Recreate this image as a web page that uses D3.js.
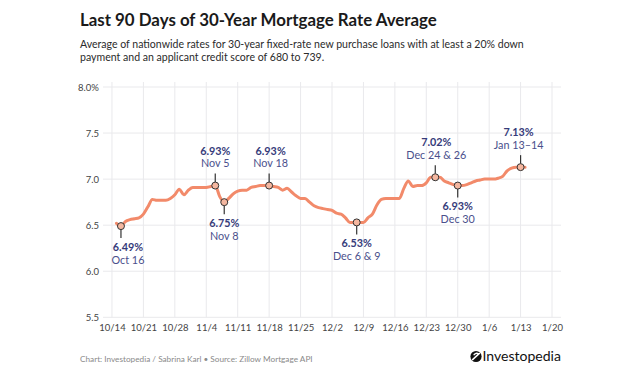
<!DOCTYPE html>
<html><head><meta charset="utf-8">
<script src="https://cdn.jsdelivr.net/npm/d3@7"></script>
<style>body{margin:0;background:#fff} svg{display:block}</style>
</head><body>
<svg id="c" width="640" height="374"></svg>
<script>
// ---- data ----
const dates = [
 "2024-10-15","2024-10-16","2024-10-17","2024-10-18","2024-10-19","2024-10-20","2024-10-21","2024-10-22","2024-10-23","2024-10-24",
 "2024-10-25","2024-10-26","2024-10-27","2024-10-28","2024-10-29","2024-10-30","2024-10-31","2024-11-01","2024-11-02","2024-11-03",
 "2024-11-04","2024-11-05","2024-11-06","2024-11-07","2024-11-08","2024-11-09","2024-11-10","2024-11-11","2024-11-12","2024-11-13",
 "2024-11-14","2024-11-15","2024-11-16","2024-11-17","2024-11-18","2024-11-19","2024-11-20","2024-11-21","2024-11-22","2024-11-23",
 "2024-11-24","2024-11-25","2024-11-26","2024-11-27","2024-11-28","2024-11-29","2024-11-30","2024-12-01","2024-12-02","2024-12-03",
 "2024-12-04","2024-12-05","2024-12-06","2024-12-07","2024-12-08","2024-12-09","2024-12-10","2024-12-11","2024-12-12","2024-12-13",
 "2024-12-14","2024-12-15","2024-12-16","2024-12-17","2024-12-18","2024-12-19","2024-12-20","2024-12-21","2024-12-22","2024-12-23",
 "2024-12-24","2024-12-25","2024-12-26","2024-12-27","2024-12-28","2024-12-29","2024-12-30","2024-12-31","2025-01-01","2025-01-02",
 "2025-01-03","2025-01-04","2025-01-05","2025-01-06","2025-01-07","2025-01-08","2025-01-09","2025-01-10","2025-01-11","2025-01-12",
 "2025-01-13","2025-01-14"];
const rates = [
 6.52,6.49,6.54,6.56,6.57,6.58,6.62,6.70,6.78,6.77,
 6.77,6.77,6.79,6.83,6.89,6.83,6.88,6.91,6.91,6.91,
 6.91,6.92,6.93,6.81,6.75,6.79,6.84,6.87,6.88,6.88,
 6.91,6.92,6.93,6.93,6.93,6.92,6.91,6.88,6.90,6.86,
 6.82,6.79,6.79,6.75,6.71,6.69,6.68,6.67,6.66,6.63,
 6.62,6.58,6.53,6.53,6.53,6.53,6.58,6.62,6.72,6.78,
 6.79,6.79,6.79,6.79,6.90,6.98,6.92,6.93,6.93,6.96,
 7.02,7.02,7.02,6.98,6.96,6.94,6.93,6.93,6.94,6.96,
 6.98,6.99,7.00,7.00,7.00,7.01,7.03,7.09,7.12,7.13,
 7.13,7.13];

const xTickDates  = ["2024-10-14","2024-10-21","2024-10-28","2024-11-04","2024-11-11","2024-11-18","2024-11-25","2024-12-02","2024-12-09","2024-12-16","2024-12-23","2024-12-30","2025-01-06","2025-01-13","2025-01-20"];
const xTickLabels = ["10/14","10/21","10/28","11/4","11/11","11/18","11/25","12/2","12/9","12/16","12/23","12/30","1/6","1/13","1/20"];
const yTicks      = [5.5, 6.0, 6.5, 7.0, 7.5, 8.0];
const yTickLabels = ["5.5","6.0","6.5","7.0","7.5","8.0%"];

const annDates       = ["2024-10-16","2024-11-06","2024-11-08","2024-11-18","2024-12-07T12:00","2024-12-25","2024-12-30","2025-01-13"];
const annRates       = [6.49, 6.93, 6.75, 6.93, 6.53, 7.02, 6.93, 7.13];
const annValueLabels = ["6.49%","6.93%","6.75%","6.93%","6.53%","7.02%","6.93%","7.13%"];
const annDateLabels  = ["Oct 16","Nov 5","Nov 8","Nov 18","Dec 6 & 9","Dec 24 & 26","Dec 30","Jan 13–14"];
const annSide        = ["below","above","below","above","below","above","below","above"];

// ---- layout ----
const FONT = "Lato, 'Noto Sans', sans-serif";
const annDx = [7, 0, 0, 1.5, 0, 1, 0, -2];
const svg = d3.select("#c");
const parse = s => new Date(s.length > 10 ? s : s + "T00:00");

const x = d3.scaleTime()
  .domain([parse("2024-10-12"), parse("2025-01-22")])
  .range([103, 561]);
const y = d3.scaleLinear().domain([5.5, 8.0]).range([317.3, 87]);

function fit(sel, w) {
  const cur = sel.node().getComputedTextLength();
  const fs = parseFloat(sel.attr("font-size"));
  sel.attr("font-size", (fs * w / cur).toFixed(2));
  return sel;
}

// title & subtitle
fit(svg.append("text").attr("x", 80).attr("y", 25.5)
  .attr("font-family", FONT).attr("font-weight", 700).attr("font-size", 17)
  .attr("fill", "#1a1a1a")
  .text("Last 90 Days of 30-Year Mortgage Rate Average"), 357);

const sub1 = svg.append("text").attr("x", 80).attr("y", 47.7)
  .attr("font-family", FONT).attr("font-size", 11.5).attr("fill", "#2b2b2b")
  .text("Average of nationwide rates for 30-year fixed-rate new purchase loans with at least a 20% down");
fit(sub1, 444);
svg.append("text").attr("x", 80).attr("y", 61.3)
  .attr("font-family", FONT).attr("font-size", sub1.attr("font-size")).attr("fill", "#2b2b2b")
  .text("payment and an applicant credit score of 680 to 739.");

// grid
const grid = svg.append("g").attr("stroke", "#e9e9ec").attr("stroke-width", 1);
grid.selectAll("line.h").data(yTicks).join("line")
  .attr("x1", 103).attr("x2", 561)
  .attr("y1", d => y(d)).attr("y2", d => y(d));
grid.selectAll("line.v").data(xTickDates).join("line")
  .attr("x1", d => x(parse(d))).attr("x2", d => x(parse(d)))
  .attr("y1", 82).attr("y2", y(5.5));

// axes
const yAxis = svg.append("g").attr("transform", "translate(103,0)")
  .call(d3.axisLeft(y).tickValues(yTicks).tickSize(0).tickPadding(4)
    .tickFormat((d, i) => yTickLabels[i]));
const xAxis = svg.append("g").attr("transform", `translate(0,${y(5.5)})`)
  .call(d3.axisBottom(x).tickValues(xTickDates.map(parse)).tickSize(0).tickPadding(7)
    .tickFormat((d, i) => xTickLabels[i]));
[yAxis, xAxis].forEach(a => {
  a.select(".domain").remove();
  a.selectAll("text").attr("font-family", FONT).attr("font-size", 9.5).attr("fill", "#444");
});

// line
const series = dates.map((d, i) => ({ date: parse(d), v: rates[i] }));
svg.append("path").datum(series)
  .attr("fill", "none").attr("stroke", "#f28a6a").attr("stroke-width", 3)
  .attr("stroke-linejoin", "round").attr("stroke-linecap", "round")
  .attr("d", d3.line().x(d => x(d.date)).y(d => y(d.v)).curve(d3.curveMonotoneX));

// annotations
const ann = annDates.map((d, i) => ({
  cx: x(parse(d)), cy: y(annRates[i]), val: annValueLabels[i], lab: annDateLabels[i],
  up: annSide[i] === "above", dx: annDx[i]
}));
const ag = svg.append("g");
ann.forEach(a => {
  const s = a.up ? -1 : 1;
  ag.append("line").attr("x1", a.cx).attr("x2", a.cx)
    .attr("y1", a.cy + s * 3.5).attr("y2", a.cy + s * 12)
    .attr("stroke", "#333").attr("stroke-width", 1.2);
  ag.append("circle").attr("cx", a.cx).attr("cy", a.cy).attr("r", 3.5)
    .attr("fill", "#f4b7a0").attr("stroke", "#333").attr("stroke-width", 1);
  const tx = a.cx + a.dx;
  const vy = a.up ? a.cy - 31 : a.cy + 24.6;
  const dy = a.up ? a.cy - 18.3 : a.cy + 37.5;
  ag.append("text").attr("x", tx).attr("y", vy).attr("text-anchor", "middle")
    .attr("font-family", FONT).attr("font-weight", 700).attr("font-size", 10.8)
    .attr("fill", "#363b7a").text(a.val);
  ag.append("text").attr("x", tx).attr("y", dy).attr("text-anchor", "middle")
    .attr("font-family", FONT).attr("font-size", 10.8)
    .attr("fill", "#4a4f8c").text(a.lab);
});

// footer
fit(svg.append("text").attr("x", 80).attr("y", 362)
  .attr("font-family", FONT).attr("font-size", 9).attr("fill", "#8a8a8a")
  .text("Chart: Investopedia / Sabrina Karl • Source: Zillow Mortgage API"), 233);

// logo
const logo = svg.append("g");
logo.append("circle").attr("cx", 476).attr("cy", 356.5).attr("r", 5.6).attr("fill", "#111");
logo.append("path").attr("d", "M472.6,359.6 L479.4,353.4 M474.2,354.6 Q476.5,352.2 478.6,354.2")
  .attr("stroke", "#fff").attr("stroke-width", 1.5).attr("fill", "none").attr("stroke-linecap", "round");
fit(logo.append("text").attr("x", 482.5).attr("y", 361)
  .attr("font-family", FONT).attr("font-weight", 400).attr("font-size", 13).attr("fill", "#111")
  .text("Investopedia"), 78.5);
</script>
</body></html>
